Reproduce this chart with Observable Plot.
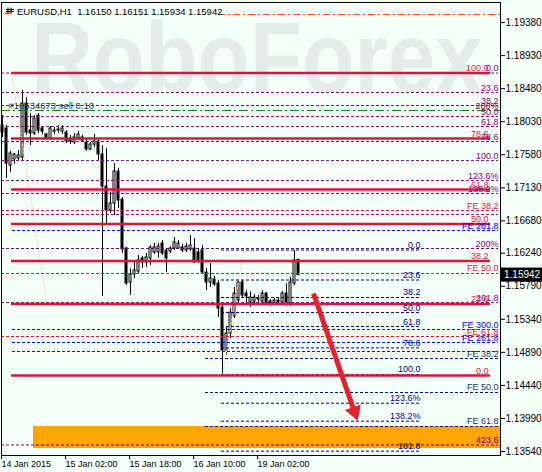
<!DOCTYPE html>
<html>
<head>
<meta charset="utf-8">
<script src="https://cdn.jsdelivr.net/npm/d3@7"></script>
<script src="https://cdn.jsdelivr.net/npm/@observablehq/plot@0.6"></script>
<style>
  html, body { margin: 0; padding: 0; background: #F5FFFA; }
  #chart { position: relative; width: 542px; height: 472px; overflow: hidden; }
</style>
</head>
<body>
<div id="chart"></div>
<script>
// ---------------- data ----------------
const symbolName = "EURUSD,H1";
const lastQuote = [1.16150, 1.16151, 1.15934, 1.15942];
const watermark = "RoboForex";

const opens = [1.17978, 1.17937, 1.17434, 1.17516, 1.17529, 1.17543, 1.18277, 1.17910, 1.17869, 1.18114,
 1.17937, 1.17856, 1.17801, 1.17896, 1.17910, 1.17896, 1.17883, 1.17788, 1.17747, 1.17801,
 1.17815, 1.17747, 1.17652, 1.17719, 1.17760, 1.17584, 1.17148, 1.16821, 1.16916, 1.17352,
 1.16970, 1.16304, 1.15841, 1.15950, 1.15991, 1.16168, 1.16114, 1.16168, 1.16250, 1.16250,
 1.16372, 1.16277, 1.16264, 1.16304, 1.16304, 1.16318, 1.16277, 1.16291, 1.16304, 1.16250,
 1.16277, 1.15977, 1.15841, 1.15882, 1.15827, 1.15500, 1.14915, 1.15147, 1.15378, 1.15596,
 1.15841, 1.15691, 1.15569, 1.15582, 1.15609, 1.15582, 1.15691, 1.15582, 1.15555, 1.15596,
 1.15569, 1.15691, 1.15555, 1.15827, 1.16150];
const highs = [1.18114, 1.17978, 1.17624, 1.17597, 1.17638, 1.18455, 1.18359, 1.18141, 1.18114, 1.18141,
 1.17964, 1.17869, 1.17964, 1.17951, 1.17978, 1.17978, 1.17910, 1.17842, 1.17869, 1.17896,
 1.17842, 1.17801, 1.17747, 1.17856, 1.17788, 1.17706, 1.17665, 1.17066, 1.17461, 1.17393,
 1.16998, 1.16318, 1.16032, 1.16114, 1.16209, 1.16196, 1.16236, 1.16345, 1.16372, 1.16372,
 1.16413, 1.16304, 1.16331, 1.16454, 1.16413, 1.16359, 1.16372, 1.16481, 1.16440, 1.16304,
 1.16345, 1.16032, 1.16100, 1.15923, 1.15868, 1.15528, 1.15229, 1.15487, 1.15773, 1.15868,
 1.15868, 1.15732, 1.15718, 1.15678, 1.15664, 1.15732, 1.15705, 1.15609, 1.15623, 1.15623,
 1.15718, 1.15827, 1.15909, 1.16277, 1.16151];
const lows = [1.17815, 1.17257, 1.17339, 1.17448, 1.17502, 1.17502, 1.17842, 1.17706, 1.17842, 1.17869,
 1.17856, 1.17774, 1.17774, 1.17856, 1.17869, 1.17856, 1.17733, 1.17719, 1.17719, 1.17774,
 1.17747, 1.17624, 1.17638, 1.17679, 1.17488, 1.15650, 1.16617, 1.16780, 1.16753, 1.16848,
 1.16236, 1.15800, 1.15664, 1.15895, 1.15963, 1.16032, 1.16046, 1.16073, 1.16223, 1.16168,
 1.16209, 1.15977, 1.16236, 1.16277, 1.16291, 1.16250, 1.16250, 1.16264, 1.16100, 1.16100,
 1.15950, 1.15732, 1.15773, 1.15786, 1.15365, 1.14575, 1.14847, 1.15079, 1.15351, 1.15528,
 1.15637, 1.15555, 1.15501, 1.15555, 1.15569, 1.15555, 1.15528, 1.15514, 1.15541, 1.15541,
 1.15528, 1.15514, 1.15514, 1.15800, 1.15934];
const closes = [1.17883, 1.17461, 1.17597, 1.17584, 1.17570, 1.18277, 1.17883, 1.17869, 1.18073, 1.17910,
 1.17896, 1.17801, 1.17937, 1.17910, 1.17924, 1.17937, 1.17760, 1.17760, 1.17815, 1.17856,
 1.17774, 1.17652, 1.17719, 1.17760, 1.17584, 1.17148, 1.16821, 1.16916, 1.17352, 1.16957,
 1.16291, 1.15827, 1.15950, 1.16005, 1.16141, 1.16114, 1.16182, 1.16318, 1.16318, 1.16331,
 1.16236, 1.16168, 1.16304, 1.16386, 1.16372, 1.16277, 1.16331, 1.16345, 1.16114, 1.16128,
 1.15977, 1.15841, 1.15895, 1.15814, 1.15487, 1.14915, 1.15147, 1.15433, 1.15691, 1.15841,
 1.15664, 1.15650, 1.15637, 1.15637, 1.15623, 1.15691, 1.15555, 1.15555, 1.15596, 1.15569,
 1.15691, 1.15569, 1.15841, 1.16141, 1.15942];

const xTickBars = [0, 16, 32, 48, 64];
const xTickLabels = ["14 Jan 2015", "15 Jan 02:00", "15 Jan 18:00", "16 Jan 10:00", "19 Jan 02:00"];
const yTicks = [1.19380, 1.18930, 1.18480, 1.18030, 1.17580, 1.17130, 1.16680, 1.16240,
                1.15790, 1.15340, 1.14890, 1.14440, 1.13990, 1.13540];

// Fibonacci retracement #1 (purple)
const purpleFibPrices = [1.18693, 1.18427, 1.18250, 1.18100, 1.17964, 1.17760, 1.17501, 1.17229, 1.17052, 1.16766, 1.16304, 1.15568, 1.13629];
const purpleFibLabels = ["0.0", "23.6", "38.2", "50.0", "61.8", "78.6", "100.0", "123.6%", "138.2%", "", "200%", "261.8", "423.6"];
// Fibonacci retracement #2 (crimson, solid)
const crimsonFibPrices = [1.18693, 1.17801, 1.17107, 1.16637, 1.16133, 1.15548, 1.14575];
const crimsonFibLabels = ["100.0", "78.6", "61.8", "50.0", "38.2", "23.6", "0.0"];
// Fibonacci retracement #3 (navy, short)
const navyFibPrices = [1.16283, 1.15875, 1.15637, 1.15432, 1.15242, 1.14951, 1.14589, 1.14198, 1.13953, 1.13545];
const navyFibLabels = ["0.0", "23.6", "38.2", "50.0", "61.8", "78.6", "100.0", "123.6%", "138.2%", "161.8"];
// Fibonacci expansions
const redFePrices = [1.16821, 1.15964, 1.15106];
const redFeLabels = ["FE 38.2", "FE 50.0", "FE 61.8"];
const blueFePrices = [1.16549, 1.15201, 1.15024];
const blueFeLabels = ["FE 261.8", "FE 300.0", "FE 261.8"];
const navyFePrices = [1.14806, 1.14344, 1.13881];
const navyFeLabels = ["FE 38.2", "FE 50.0", "FE 61.8"];
const maroonLevel = 1.14902;
const extraLabelPrice = 1.18209, extraLabel = "200%";

const orderPrice = 1.18182, orderText = "#10534673 sell 0.10";
const stopPrice = 1.19489;
const targetZone = [1.13881, 1.13581];
const arrowFrom = [77.75, 1.15691], arrowTo = [89, 1.13922];
const trendA = [[2.25, 1.18693], [11, 1.15596]];
const trendB = [[55, 1.14575], [60.25, 1.16277]];

// ---------------- layout ----------------
const W = 542, H = 472, ML = 1, MR = 42, MT = 2, MB = 17;
const X0 = -0.25, X1 = 124.5, Y0 = 1.13486, Y1 = 1.19653;
const pxX = (X1 - X0) / (W - ML - MR);
const pxY = (Y1 - Y0) / (H - MT - MB);
const FONT = "'Liberation Sans', Arial, sans-serif";

const candles = opens.map((o, i) => ({i, o, h: highs[i], l: lows[i], c: closes[i]}));
const bull = candles.filter(d => d.c >= d.o);
const bear = candles.filter(d => d.c < d.o);
const lv = (p, l) => p.map((v, k) => ({p: v, label: l ? l[k] : ""}));

const lineMarks = [], labelMarks = [];
function level(data, span, stroke, dash, width, labelX, labelFill) {
  lineMarks.push(Plot.ruleY(data, {y: "p", x1: span[0], x2: span[1], stroke, strokeDasharray: dash, strokeWidth: width}));
  const lab = data.filter(d => d.label);
  if (lab.length) labelMarks.push(Plot.text(lab, {x: labelX, y: "p", text: "label", textAnchor: "end", lineAnchor: "bottom", dy: -2, fill: labelFill, fontSize: 9}));
}
const DASH = "3,2";
level(lv(purpleFibPrices, purpleFibLabels), [X0, 124], "#800080", DASH, 1, 124, "#800080");
level(lv(redFePrices, redFeLabels), [X0, 124], "#DC143C", DASH, 1, 124, "#DC143C");
level(lv(blueFePrices, blueFeLabels), [2.5, 124], "#0000FF", DASH, 1, 124, "#0000FF");
level(lv([maroonLevel]), [2.5, 124], "#800000", DASH, 1, 124, "#800000");
level(lv(navyFePrices, navyFeLabels), [50.75, 124], "#000080", DASH, 1, 124, "#1F2F5F");
level(lv(navyFibPrices, navyFibLabels), [54.75, 104.75], "#000080", DASH, 1, 104.5, "#000080");
level(lv(crimsonFibPrices, crimsonFibLabels), [2.25, 122], "#DC143C", null, 2.5, 121.5, "#DC143C");

// arrow geometry (pixel-aware head placement)
const adx = (arrowTo[0] - arrowFrom[0]) / pxX, ady = (arrowFrom[1] - arrowTo[1]) / pxY;
const alen = Math.hypot(adx, ady), ux = adx / alen, uy = ady / alen;
const headR = 8, headY = Math.sqrt(Math.PI * headR * headR / (Math.sqrt(3) * 3));
const headC = [arrowTo[0] - 2 * headY * ux * pxX, arrowTo[1] + 2 * headY * uy * pxY];
const headRot = Math.atan2(ux, -uy) * 180 / Math.PI;

const plot = Plot.plot({
  width: W, height: H,
  marginLeft: ML, marginRight: MR, marginTop: MT, marginBottom: MB,
  x: {domain: [X0, X1]},
  y: {domain: [Y0, Y1]},
  style: {background: "#F5FFFA", fontFamily: FONT, fontSize: "9px", color: "black"},
  marks: [
    Plot.rect([targetZone], {x1: 7.75, x2: X1, y1: d => d[0], y2: d => d[1], fill: "#FFA500"}),
    // candles
    Plot.ruleX(candles, {x: "i", y1: "l", y2: "h", stroke: "black", strokeWidth: 1}),
    Plot.rect(bear, {x1: d => d.i - 0.25, x2: d => d.i + 0.25, y1: "o", y2: "c", fill: "black", stroke: "black", strokeWidth: 1}),
    Plot.rect(bull, {x1: d => d.i - 0.25, x2: d => d.i + 0.25, y1: "o", y2: "c", fill: "white", stroke: "black", strokeWidth: 1}),
    // trend lines of fib objects
    Plot.line(trendA, {x: d => d[0], y: d => d[1], stroke: "#F9D3AE", strokeDasharray: "2,2", strokeWidth: 1}),
    Plot.line(trendB, {x: d => d[0], y: d => d[1], stroke: "#F9D3AE", strokeDasharray: "2,2", strokeWidth: 1}),
    // order & stop lines
    Plot.ruleY([orderPrice], {y: d => d, x1: X0, x2: X1, stroke: "#008000", strokeDasharray: "9,3,2,3", strokeWidth: 1}),
    Plot.ruleY([stopPrice], {y: d => d, x1: 54, x2: X1, stroke: "#FF4500", strokeDasharray: "7,3,2,3", strokeWidth: 1}),
    ...lineMarks,
    ...labelMarks,
    Plot.text([extraLabel], {x: 124, y: extraLabelPrice, text: d => d, textAnchor: "end", lineAnchor: "bottom", fill: "#800000", fontSize: 9}),
    Plot.text([orderText], {x: 1.5, y: orderPrice, text: d => d, textAnchor: "start", lineAnchor: "bottom", dy: -2, fill: "#333333", fontSize: 9.5}),
    // arrow
    Plot.link([{}], {x1: arrowFrom[0], y1: arrowFrom[1], x2: headC[0], y2: headC[1], stroke: "#E8202A", strokeWidth: 5}),
    Plot.dot([{}], {x: headC[0], y: headC[1], symbol: "triangle2", r: headR, rotate: headRot, fill: "#E8202A", stroke: "none"}),
    // axes & frame
    Plot.axisY({anchor: "right", ticks: yTicks, tickFormat: d3.format(".5f"), tickSize: 4, tickPadding: 1, fontSize: 10, label: null}),
    Plot.axisX({anchor: "bottom", ticks: xTickBars, tickFormat: d => xTickLabels[xTickBars.indexOf(d)], tickSize: 4, tickPadding: 1, textAnchor: "start", dx: -1, fontSize: 9, label: null}),
    Plot.frame({stroke: "black", strokeWidth: 1})
  ]
});
document.getElementById("chart").appendChild(plot);

// ---------------- decorations ----------------
const svg = d3.select(plot);
const ys = plot.scale("y");
// watermark beneath everything
svg.insert("text", "g")
  .attr("x", 31).attr("y", 92).attr("text-anchor", "start")
  .attr("font-family", FONT).attr("font-weight", "bold").attr("font-size", 100)
  .attr("textLength", 452).attr("lengthAdjust", "spacingAndGlyphs")
  .attr("fill", "#E3ECE9").text(watermark);
// header
svg.append("path").attr("d", "M6,9.5H14M6,11.5H14M8,7.5V13.5M11,7.5V13.5").attr("stroke", "black").attr("stroke-width", 1).attr("fill", "none");
svg.append("path").attr("d", "M5,13.5H11").attr("stroke", "#FF4500").attr("stroke-width", 1.5);
svg.append("text").attr("x", 17).attr("y", 14.5).attr("text-anchor", "start")
  .attr("font-family", FONT).attr("font-size", 9.5).attr("fill", "black")
  .style("white-space", "pre")
  .text(symbolName + "  " + lastQuote.map(d3.format(".5f")).join(" "));
// current price tag
const py = ys.apply(lastQuote[3]);
svg.append("rect").attr("x", 500).attr("y", py - 7).attr("width", 42).attr("height", 14).attr("fill", "black");
svg.append("text").attr("x", 504).attr("y", py + 3.5).attr("text-anchor", "start")
  .attr("font-family", FONT).attr("font-size", 10).attr("fill", "white")
  .text(d3.format(".5f")(lastQuote[3]));
</script>
</body>
</html>
